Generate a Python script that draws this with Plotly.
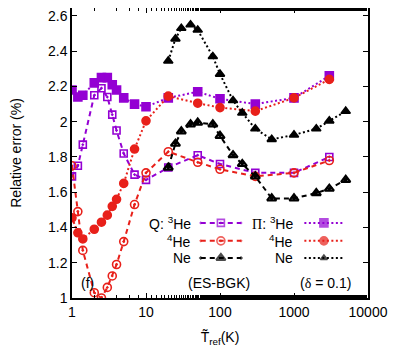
import plotly.graph_objects as go

# Temperatures (K)
T_he = [1, 1.2, 1.4, 2, 2.5, 3, 3.5, 4, 5, 7, 10, 20, 50, 100, 300, 1000, 3000]
T_ne = [20, 25, 30, 40, 50, 80, 100, 150, 200, 300, 500, 1000, 2000, 3000, 5000]

# Q : heat flux relative error (%)
q_he3 = [1.69, 1.75, 1.87, 2.15, 2.19, 2.14, 2.04, 1.95, 1.82, 1.70, 1.67, 1.74, 1.81, 1.76, 1.71, 1.71, 1.80]
q_he4 = [1.75, 1.49, 1.27, 1.03, 1.00, 1.06, 1.125, 1.19, 1.32, 1.53, 1.71, 1.83, 1.77, 1.73, 1.69, 1.71, 1.78]
q_ne = [1.74, 1.875, 1.945, 1.985, 1.995, 1.985, 1.92, 1.81, 1.76, 1.69, 1.565, 1.565, 1.595, 1.62, 1.67]

# Pi : stress relative error (%)
p_he3 = [2.18, 2.14, 2.15, 2.22, 2.25, 2.25, 2.21, 2.18, 2.135, 2.10, 2.085, 2.135, 2.17, 2.13, 2.10, 2.135, 2.26]
p_he4 = [1.455, 1.37, 1.335, 1.39, 1.43, 1.47, 1.52, 1.56, 1.65, 1.845, 2.005, 2.145, 2.105, 2.08, 2.06, 2.135, 2.24]
p_ne = [2.345, 2.47, 2.53, 2.55, 2.52, 2.37, 2.27, 2.12, 2.05, 1.96, 1.90, 1.925, 1.96, 2.005, 2.06]

x_ticks = [1, 10, 100, 1000, 10000]
x_ticktext = ["1", "10", "100", "1000", "10000"]

PURPLE = "#9400d3"
RED = "#e8201a"
BLACK = "#000000"
FONT = "Liberation Sans, Arial, sans-serif"

DASH = "5px,4px"
DOT = "2px,2.5px"

series = [
    # x, y, colour, dash, marker symbol, marker size, marker edge width
    (T_he, q_he3, PURPLE, DASH, "square-open-dot", 7, 1.6),
    (T_he, q_he4, RED, DASH, "circle-open-dot", 8, 1.6),
    (T_ne, q_ne, BLACK, DASH, "triangle-up-open-dot", 8, 2.2),
    (T_he, p_he3, PURPLE, DOT, "square", 8, 1.6),
    (T_he, p_he4, RED, DOT, "circle", 8, 1.6),
    (T_ne, p_ne, BLACK, DOT, "triangle-up", 8, 1.6),
]

fig = go.Figure()
for x, y, col, dash, sym, size, lw in series:
    fig.add_trace(go.Scatter(
        x=x, y=y, mode="lines+markers",
        line=dict(color=col, width=2, dash=dash),
        marker=dict(symbol=sym, size=size, color=col, line=dict(color=col, width=lw)),
        showlegend=False, hoverinfo="skip",
    ))

# hand-made legend (text first, then sample) on an overlay axis in [0,1]
rows = [0.259, 0.197, 0.138]
q_x = [0.435, 0.503, 0.571]
p_x = [0.785, 0.851, 0.917]
for i, (x, y, col, dash, sym, size, lw) in enumerate(series):
    sx = q_x if i < 3 else p_x
    ry = rows[i % 3]
    msize = size if i != 5 else 6
    fig.add_trace(go.Scatter(
        x=sx, y=[ry] * 3, xaxis="x2", yaxis="y2", mode="lines+markers",
        line=dict(color=col, width=2, dash=dash),
        marker=dict(symbol=sym, size=[0, msize, 0], color=col, line=dict(color=col, width=lw)),
        showlegend=False, hoverinfo="skip",
    ))

labels = ["Q: <sup>3</sup>He", "<sup>4</sup>He", "Ne",
          "<span style='font-family:Liberation Serif'>Π</span>: <sup>3</sup>He", "<sup>4</sup>He", "Ne"]
annotations = []
for i, txt in enumerate(labels):
    annotations.append(dict(
        x=0.409 if i < 3 else 0.753, y=rows[i % 3], xref="paper", yref="paper",
        text=txt, showarrow=False, xanchor="right", yanchor="middle",
        font=dict(family=FONT, size=14, color="black"),
    ))
annotations += [
    dict(x=0.024, y=0.052, xref="paper", yref="paper", text="(f)", showarrow=False,
         xanchor="left", yanchor="middle", font=dict(family=FONT, size=14, color="black")),
    dict(x=0.497, y=0.052, xref="paper", yref="paper", text="(ES-BGK)", showarrow=False,
         xanchor="center", yanchor="middle", font=dict(family=FONT, size=14, color="black")),
    dict(x=0.855, y=0.052, xref="paper", yref="paper",
         text="(<span style='font-family:Liberation Serif'>δ</span> = 0.1)", showarrow=False,
         xanchor="center", yanchor="middle", font=dict(family=FONT, size=14, color="black")),
]

axis_common = dict(
    showline=True, linecolor="black", linewidth=1.5, mirror="allticks",
    ticks="inside", ticklen=5, tickwidth=1, tickcolor="black",
    showgrid=False, zeroline=False, automargin=False, ticklabeloverflow="allow",
    tickfont=dict(family=FONT, size=14, color="black"),
)

# the page body adds 8px on the left/top, so the figure is a bit smaller
fig.update_layout(
    width=390, height=342,
    margin=dict(l=64, r=30, t=0, b=52),
    paper_bgcolor="white", plot_bgcolor="white",
    font=dict(family=FONT, size=14, color="black"),
    xaxis=dict(
        type="log", range=[0, 4], tickvals=x_ticks, ticktext=x_ticktext,
        title=dict(text="T\u0303<sub>ref</sub>(K)", standoff=14, font=dict(family=FONT, size=14)),
        minor=dict(ticks="inside", ticklen=3, tickcolor="black", showgrid=False),
        **axis_common,
    ),
    yaxis=dict(
        range=[1, 2.645], dtick=0.2, tick0=1,
        title=dict(text="Relative error (%)", standoff=28, font=dict(family=FONT, size=14)),
        **axis_common,
    ),
    xaxis2=dict(overlaying="x", range=[0, 1], visible=False, fixedrange=True),
    yaxis2=dict(overlaying="y", range=[0, 1], visible=False, fixedrange=True),
    annotations=annotations,
    showlegend=False,
)

fig.write_html("out.html")
